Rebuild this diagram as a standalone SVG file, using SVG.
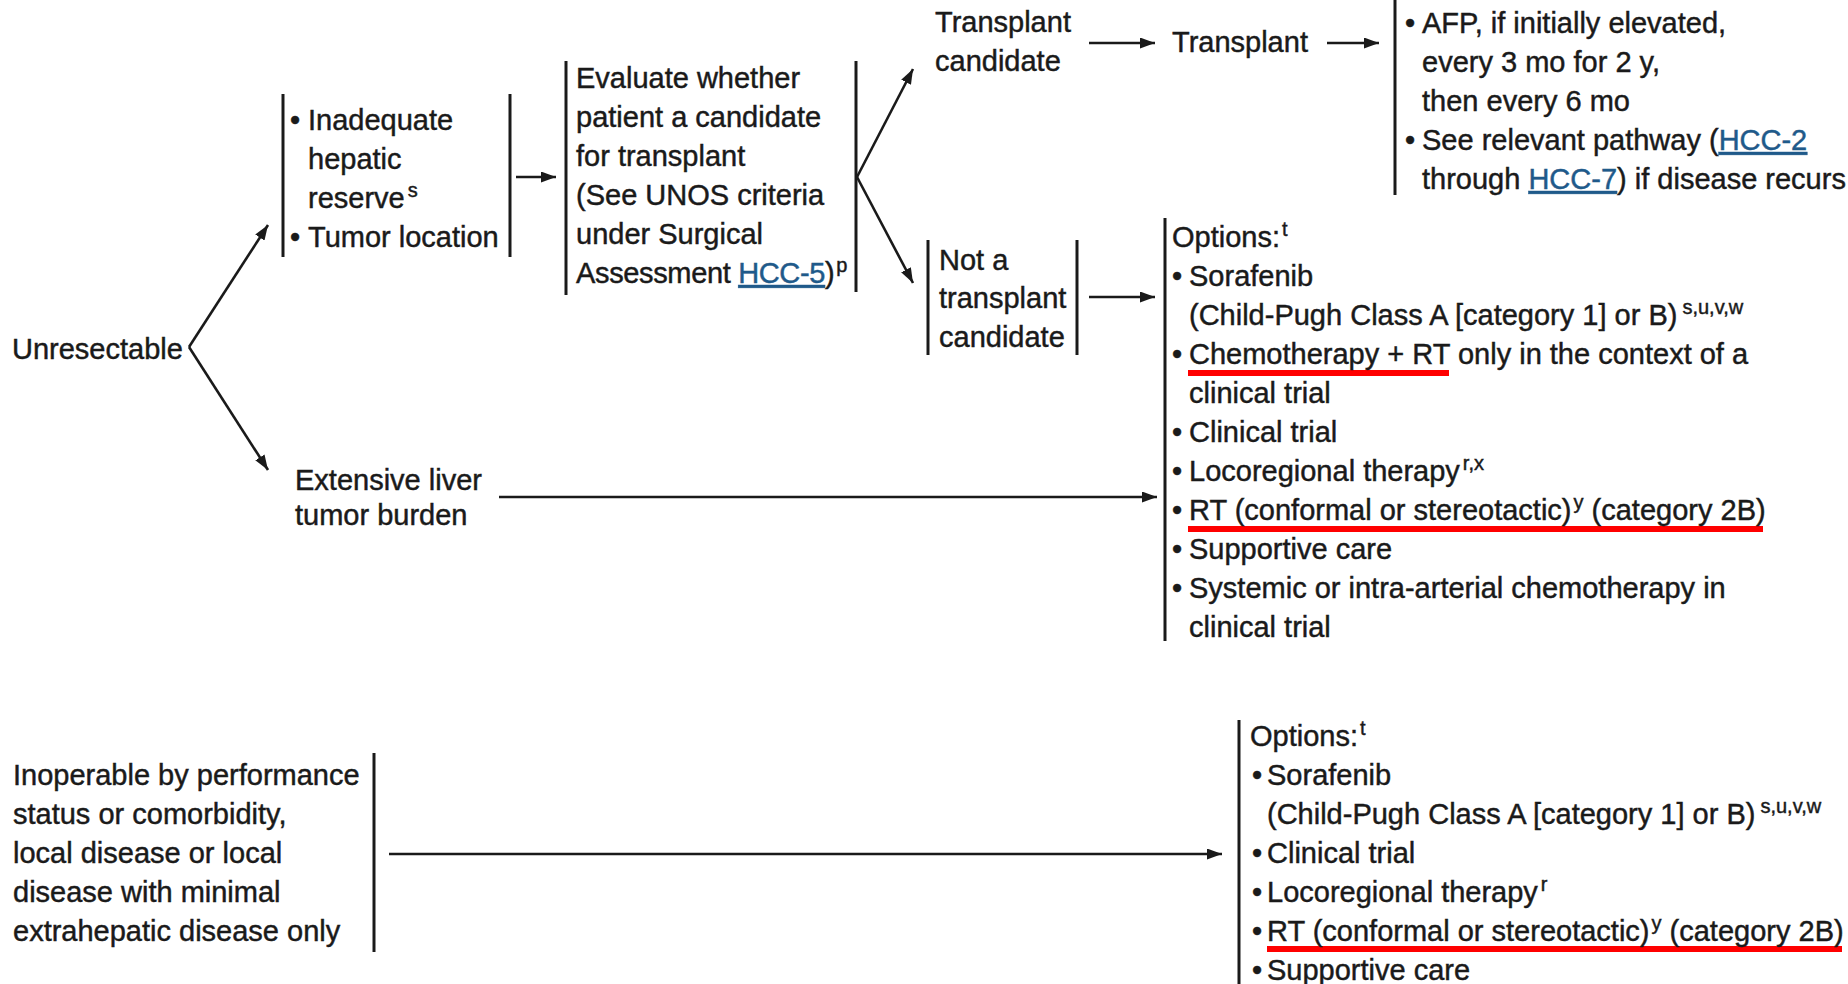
<svg xmlns="http://www.w3.org/2000/svg" width="1848" height="984" viewBox="0 0 1848 984">
  <style>
    .t { font-family: "Liberation Sans", Arial, Helvetica, sans-serif; font-size: 29px; fill: #1a1a1a; stroke: #1a1a1a; stroke-width: 0.45px; }
    .sup { font-size: 20px; }
    .link { fill: #1f5a8a; stroke: #1f5a8a; text-decoration: underline; }
    .bar { stroke: #1a1a1a; stroke-width: 3; fill: none; }
    .conn line { stroke: #1a1a1a; stroke-width: 2.6; fill: none; marker-end: url(#ah); }
    .hl { stroke: #ff0000; stroke-width: 6; }
  </style>
  <defs>
    <marker id="ah" markerUnits="userSpaceOnUse" viewBox="0 0 15 11" refX="15" refY="5.5" markerWidth="15" markerHeight="11" orient="auto">
      <path d="M0,0 L15,5.5 L0,11 z" fill="#1a1a1a"/>
    </marker>
  </defs>
  <rect width="1848" height="984" fill="#ffffff"/>

  <!-- connectors -->
  <g id="connectors" class="conn">
    <line x1="189" y1="347" x2="268" y2="225"/>
    <line x1="189" y1="347" x2="268" y2="470"/>
    <line x1="516" y1="177" x2="556" y2="177"/>
    <line x1="857" y1="177" x2="913" y2="69"/>
    <line x1="857" y1="177" x2="913" y2="283"/>
    <line x1="1089" y1="43" x2="1155" y2="43"/>
    <line x1="1327" y1="43" x2="1379" y2="43"/>
    <line x1="1089" y1="297" x2="1155" y2="297"/>
    <line x1="499" y1="497" x2="1157" y2="497"/>
    <line x1="389" y1="854" x2="1222" y2="854"/>
  </g>

  <!-- Unresectable -->
  <g id="unresectable">
    <text class="t" x="12" y="359">Unresectable</text>
  </g>

  <!-- Inadequate hepatic reserve / tumor location -->
  <g id="inadequate">
    <line class="bar" x1="283" y1="94" x2="283" y2="257"/>
    <line class="bar" x1="510" y1="94" x2="510" y2="257"/>
    <text class="t">
      <tspan x="290" y="130">•</tspan><tspan x="308">Inadequate</tspan>
      <tspan x="308" y="169">hepatic</tspan>
      <tspan x="308" y="208">reserve</tspan><tspan class="sup" dx="3" dy="-11">s</tspan>
      <tspan x="290" y="247">•</tspan><tspan x="308">Tumor location</tspan>
    </text>
  </g>

  <!-- Evaluate transplant candidacy -->
  <g id="evaluate">
    <line class="bar" x1="566" y1="61" x2="566" y2="295"/>
    <line class="bar" x1="856" y1="61" x2="856" y2="292"/>
    <text class="t">
      <tspan x="576" y="88">Evaluate whether</tspan>
      <tspan x="576" y="127">patient a candidate</tspan>
      <tspan x="576" y="166">for transplant</tspan>
      <tspan x="576" y="205">(See UNOS criteria</tspan>
      <tspan x="576" y="244">under Surgical</tspan>
    </text>
    <text class="t" letter-spacing="-0.35">
      <tspan x="576" y="283">Assessment </tspan><tspan class="link">HCC-5</tspan><tspan>)</tspan><tspan class="sup" dx="2" dy="-11">p</tspan>
    </text>
  </g>

  <!-- Transplant candidate -->
  <g id="transplant-candidate">
    <text class="t">
      <tspan x="935" y="32">Transplant</tspan>
      <tspan x="935" y="71">candidate</tspan>
    </text>
  </g>

  <!-- Transplant -->
  <g id="transplant">
    <text class="t" x="1172" y="52">Transplant</text>
  </g>

  <!-- Follow-up after transplant -->
  <g id="followup">
    <line class="bar" x1="1395" y1="0" x2="1395" y2="195"/>
    <text class="t">
      <tspan x="1405" y="33">•</tspan><tspan x="1422">AFP, if initially elevated,</tspan>
      <tspan x="1422" y="72">every 3 mo for 2 y,</tspan>
      <tspan x="1422" y="111">then every 6 mo</tspan>
      <tspan x="1405" y="150">•</tspan><tspan x="1422">See relevant pathway (</tspan><tspan class="link">HCC-2</tspan>
      <tspan x="1422" y="189">through </tspan><tspan class="link">HCC-7</tspan><tspan>) if disease recurs</tspan>
    </text>
  </g>

  <!-- Not a transplant candidate -->
  <g id="not-candidate">
    <line class="bar" x1="928" y1="240" x2="928" y2="355"/>
    <line class="bar" x1="1077" y1="240" x2="1077" y2="355"/>
    <text class="t">
      <tspan x="939" y="270">Not a</tspan>
      <tspan x="939" y="308">transplant</tspan>
      <tspan x="939" y="347">candidate</tspan>
    </text>
  </g>

  <!-- Extensive liver tumor burden -->
  <g id="extensive">
    <text class="t">
      <tspan x="295" y="490">Extensive liver</tspan>
      <tspan x="295" y="525">tumor burden</tspan>
    </text>
  </g>

  <!-- Treatment options (unresectable) -->
  <g id="options-unresectable">
    <line class="bar" x1="1165" y1="218" x2="1165" y2="641"/>
    <line class="hl" x1="1188" y1="373" x2="1449" y2="373"/>
    <line class="hl" x1="1188" y1="529" x2="1763" y2="529"/>
    <text class="t">
      <tspan x="1172" y="247">Options:</tspan><tspan class="sup" dx="2" dy="-11">t</tspan>
      <tspan x="1172" y="286">•</tspan><tspan x="1189">Sorafenib</tspan>
      <tspan x="1189" y="325">(Child-Pugh Class A [category 1] or B)</tspan><tspan class="sup" dx="5" dy="-11">s,u,v,w</tspan>
      <tspan x="1172" y="364">•</tspan><tspan x="1189">Chemotherapy + RT only in the context of a</tspan>
      <tspan x="1189" y="403">clinical trial</tspan>
      <tspan x="1172" y="442">•</tspan><tspan x="1189">Clinical trial</tspan>
      <tspan x="1172" y="481">•</tspan><tspan x="1189">Locoregional therapy</tspan><tspan class="sup" dx="3" dy="-11">r,x</tspan>
      <tspan x="1172" y="520">•</tspan><tspan x="1189">RT (conformal or stereotactic)</tspan><tspan class="sup" dx="2" dy="-11">y</tspan><tspan dy="11"> (category 2B)</tspan>
      <tspan x="1172" y="559">•</tspan><tspan x="1189">Supportive care</tspan>
      <tspan x="1172" y="598">•</tspan><tspan x="1189">Systemic or intra-arterial chemotherapy in</tspan>
      <tspan x="1189" y="637">clinical trial</tspan>
    </text>
  </g>

  <!-- Inoperable -->
  <g id="inoperable">
    <line class="bar" x1="374" y1="753" x2="374" y2="952"/>
    <text class="t">
      <tspan x="13" y="785">Inoperable by performance</tspan>
      <tspan x="13" y="824">status or comorbidity,</tspan>
      <tspan x="13" y="863">local disease or local</tspan>
      <tspan x="13" y="902">disease with minimal</tspan>
      <tspan x="13" y="941">extrahepatic disease only</tspan>
    </text>
  </g>

  <!-- Treatment options (inoperable) -->
  <g id="options-inoperable">
    <line class="bar" x1="1239" y1="720" x2="1239" y2="984"/>
    <line class="hl" x1="1267" y1="949" x2="1842" y2="949"/>
    <text class="t">
      <tspan x="1250" y="746">Options:</tspan><tspan class="sup" dx="2" dy="-11">t</tspan>
      <tspan x="1252" y="785">•</tspan><tspan x="1267">Sorafenib</tspan>
      <tspan x="1267" y="824">(Child-Pugh Class A [category 1] or B)</tspan><tspan class="sup" dx="5" dy="-11">s,u,v,w</tspan>
      <tspan x="1252" y="863">•</tspan><tspan x="1267">Clinical trial</tspan>
      <tspan x="1252" y="902">•</tspan><tspan x="1267">Locoregional therapy</tspan><tspan class="sup" dx="3" dy="-11">r</tspan>
      <tspan x="1252" y="941">•</tspan><tspan x="1267">RT (conformal or stereotactic)</tspan><tspan class="sup" dx="2" dy="-11">y</tspan><tspan dy="11"> (category 2B)</tspan>
      <tspan x="1252" y="980">•</tspan><tspan x="1267">Supportive care</tspan>
    </text>
  </g>
</svg>
